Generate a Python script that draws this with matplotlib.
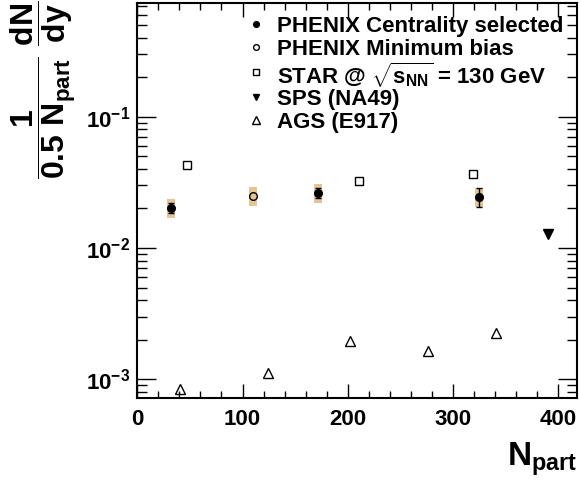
import numpy as np
import matplotlib
matplotlib.use('Agg')
import matplotlib.pyplot as plt
from matplotlib.ticker import MultipleLocator, LogLocator, NullFormatter, FixedLocator

plt.rcParams['font.family'] = ['Liberation Sans', 'DejaVu Sans']
plt.rcParams['font.weight'] = 'bold'
plt.rcParams['mathtext.fontset'] = 'custom'
plt.rcParams['mathtext.rm'] = 'Liberation Sans:bold'
plt.rcParams['mathtext.it'] = 'Liberation Sans:bold'
plt.rcParams['mathtext.bf'] = 'Liberation Sans:bold'
plt.rcParams['mathtext.sf'] = 'Liberation Sans:bold'

# PHENIX centrality selected
cen_x = [32.3, 172.0, 325.0]
cen_y = [0.0202, 0.0264, 0.0246]
cen_lo = [0.0184, 0.0242, 0.0206]
cen_hi = [0.0221, 0.0286, 0.0285]
cen_syslo = [0.0169, 0.0219, 0.0205]
cen_syshi = [0.0235, 0.0306, 0.0287]

# PHENIX minimum bias
mb_x = [109.6]
mb_y = [0.0250]
mb_syslo = [0.0210]
mb_syshi = [0.0290]

# STAR 130 GeV
star_x = [46.9, 211.0, 318.7]
star_y = [0.0429, 0.0322, 0.0366]

# SPS NA49
sps_x = [390.0]
sps_y = [0.0127]

# AGS E917
ags_x = [40.6, 124.2, 201.8, 276.2, 340.5]
ags_y = [8.44e-4, 1.11e-3, 1.97e-3, 1.65e-3, 2.26e-3]

labels = ['PHENIX Centrality selected', 'PHENIX Minimum bias',
          r'STAR @ $\sqrt{s_{NN}}$ = 130 GeV', 'SPS (NA49)', 'AGS (E917)']

fig = plt.figure(figsize=(5.8, 4.83), dpi=100)
ax = fig.add_axes([0.2367, 0.1766, 0.9943 - 0.2367, 0.9944 - 0.1766])
ax.set_yscale('log')

box = '#e6c494'
allx = cen_x + mb_x
lo = np.array(cen_syslo + mb_syslo)
hi = np.array(cen_syshi + mb_syshi)
ax.bar(allx, hi - lo, bottom=lo, width=7.6, color=box, edgecolor='none', zorder=1)

yerr = [np.array(cen_y) - np.array(cen_lo), np.array(cen_hi) - np.array(cen_y)]
ax.errorbar(cen_x, cen_y, yerr=yerr, fmt='none', ecolor='black', capsize=2.5,
            elinewidth=1, capthick=1, zorder=2)

styles = [dict(marker='o', mfc='black', mec='black', ms=5.5),
          dict(marker='o', mfc='none', mec='black', ms=5.5, mew=1),
          dict(marker='s', mfc='none', mec='black', ms=5.5, mew=1),
          dict(marker='v', mfc='black', mec='black', ms=6.5),
          dict(marker='^', mfc='none', mec='black', ms=7, mew=1)]
series = [(cen_x, cen_y), (mb_x, mb_y), (star_x, star_y), (sps_x, sps_y), (ags_x, ags_y)]
for (xs, ys), st in zip(series, styles):
    ax.plot(xs, ys, ls='none', zorder=3, **st)

# legend drawn by hand so rows keep even spacing
leg_y = [0.946, 0.888, 0.825, 0.761, 0.703]
for st, lab, yy in zip(styles, labels, leg_y):
    small = dict(st)
    small['ms'] = st['ms'] * 0.75
    ax.plot([0.270], [yy], ls='none', transform=ax.transAxes, clip_on=False, **small)
    ax.text(0.318, yy, lab, transform=ax.transAxes, fontsize=16, fontweight='bold',
            ha='left', va='center_baseline')

ax.set_xlim(0, 417.5)
ax.set_ylim(7.25e-4, 0.738)

ax.xaxis.set_major_locator(MultipleLocator(100))
ax.xaxis.set_minor_locator(MultipleLocator(20))
ax.yaxis.set_major_locator(FixedLocator([1e-3, 1e-2, 1e-1]))
ax.yaxis.set_minor_locator(LogLocator(base=10, subs=np.arange(2, 10)))
ax.yaxis.set_minor_formatter(NullFormatter())
ax.set_yticklabels([r'$10^{-3}$', r'$10^{-2}$', r'$10^{-1}$'])

ax.tick_params(which='both', direction='in', top=True, right=True, labelsize=16, width=1)
ax.tick_params(axis='x', which='major', length=10, pad=8)
ax.tick_params(axis='x', which='minor', length=5)
ax.tick_params(axis='y', which='major', length=14, pad=5)
ax.tick_params(axis='y', which='minor', length=7)
for lab in ax.get_xticklabels() + ax.get_yticklabels():
    lab.set_fontweight('bold')
for s in ax.spines.values():
    s.set_linewidth(1.5)

fig.text(0.995, 0.01, r'$N_{part}$', fontsize=24, ha='right', va='bottom')
fig.text(0.015, 0.998, r'$\dfrac{1}{0.5\ N_{part}}\ \dfrac{dN}{dy}$', fontsize=23,
         rotation=90, ha='left', va='top')

fig.savefig('out.png', dpi=100)
